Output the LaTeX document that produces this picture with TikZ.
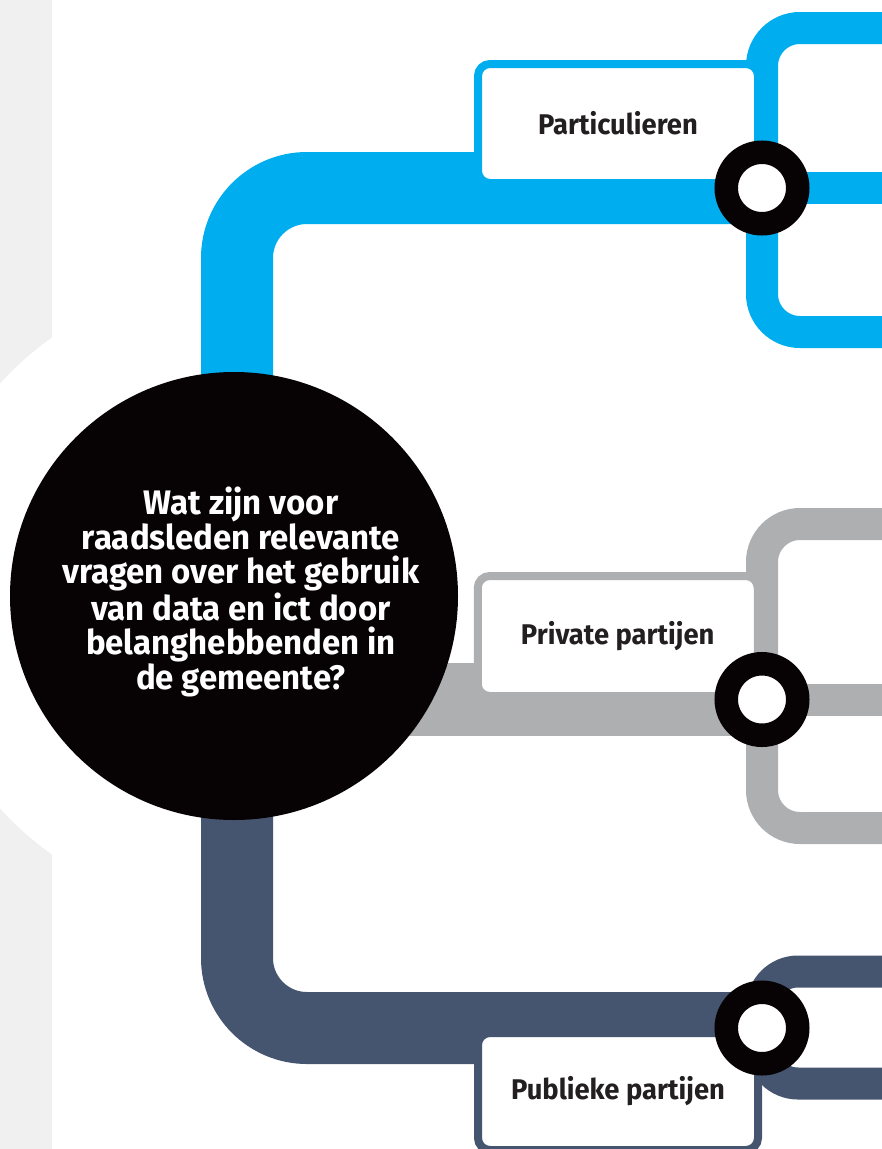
\documentclass[tikz,border=0pt]{standalone}
\usepackage{fontspec}
\setmainfont{Fira Sans}[FakeStretch=0.97]
\newfontfamily\lblfont{Fira Sans}[FakeStretch=0.96]
\definecolor{cblue}{HTML}{00AEEF}
\definecolor{cgray}{HTML}{ADAFB1}
\definecolor{cnavy}{HTML}{46556F}
\definecolor{ringblack}{HTML}{070203}
\definecolor{stripgray}{HTML}{F0F0F0}
\definecolor{labeltext}{HTML}{231F20}
\begin{document}
\begin{tikzpicture}[x=1pt,y=-1pt,
  pipe/.style={line width=72pt, rounded corners=70pt},
  branch/.style={line width=32pt, rounded corners=38pt},
  box/.style={draw=#1, fill=white, line width=8pt, rounded corners=12pt,
    minimum width=280pt, inner sep=0pt,
    font=\lblfont\fontsize{28.5}{32}\selectfont\bfseries, text=labeltext},
  ring/.style={circle, draw=ringblack, fill=white, line width=23.5pt,
    minimum size=71.5pt, inner sep=0pt}]
\useasboundingbox (0,0) rectangle (882,1149);
\clip (0,0) rectangle (882,1149);
% background
\fill[stripgray] (0,0) rectangle (52,1149);
\fill[white] (234,596) circle[radius=316pt];
% junction coordinates
\coordinate (hub) at (237,596);
\coordinate (hubG) at (234,699.5);
\coordinate (jA) at (762,188);
\coordinate (jB) at (762,699.5);
\coordinate (jC) at (762,1028);
\coordinate (aTop) at (895,28);
\coordinate (aMid) at (895,188);
\coordinate (aBot) at (895,332);
\coordinate (bTop) at (895,524);
\coordinate (bMid) at (895,699.5);
\coordinate (bBot) at (895,828);
\coordinate (cTop) at (895,971.5);
\coordinate (cBot) at (895,1083.5);
% blue
\draw[pipe, draw=cblue] (hub) |- (jA);
\draw[branch, draw=cblue] (aTop) -| (jA) |- (aBot);
\draw[branch, draw=cblue] (jA) -- (aMid);
% gray
\draw[pipe, line width=73pt, draw=cgray] (hubG) -- (jB);
\draw[branch, draw=cgray] (bTop) -| (jB) |- (bBot);
\draw[branch, draw=cgray] (jB) -- (bMid);
% navy
\draw[pipe, draw=cnavy] (hub) |- (jC);
\draw[branch, rounded corners=36pt, draw=cnavy] (cTop) -| (jC) |- (cBot);
% boxes
\node[box=cblue, minimum height=119pt] (part) at (618,123.5) {Particulieren};
\node[box=cgray, minimum height=120pt] (priv) at (617.75,636) {Private partijen};
\node[box=cnavy, minimum height=117pt] (publ) at (618,1091.5) {Publieke partijen};
% rings
\node[ring] (rA) at (jA) {};
\node[ring] (rB) at (jB) {};
\node[ring] (rC) at (jC) {};
% central question
\node[circle, fill=ringblack, minimum size=448pt, inner sep=0pt] (q) at (234,596) {};
\node[text=white, align=center, inner sep=0pt,
  font=\fontsize{34}{34.5}\selectfont\bfseries] (qt) at (241,592)
  {Wat zijn voor\\raadsleden relevante\\vragen over het gebruik\\van data en ict door\\belanghebbenden in\\de gemeente?};
\end{tikzpicture}
\end{document}
